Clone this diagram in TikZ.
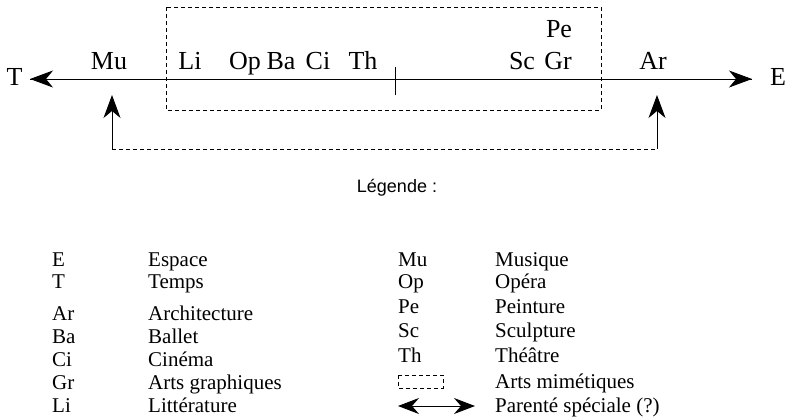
\documentclass[tikz,border=0pt]{standalone}
\usepackage{fontspec}
\setmainfont{Liberation Serif}
\setsansfont{Liberation Sans}
\usetikzlibrary{arrows.meta}
\tikzset{
  lbl/.style={anchor=base, inner sep=0pt, font=\fontsize{26}{30}\selectfont},
  leg/.style={anchor=base west, inner sep=0pt, font=\fontsize{21}{25}\selectfont},
  dsh/.style={dash pattern=on 4pt off 3pt, line width=0.8pt},
  tip/.style={line width=0.9pt, arrows={-Stealth[length=23pt,width=17pt,inset=7pt]}},
  tips/.style={line width=0.9pt, arrows={Stealth[length=21pt,width=16pt,inset=7pt]-Stealth[length=21pt,width=16pt,inset=7pt]}},
}
\begin{document}
\begin{tikzpicture}[x=1pt, y=-1pt]
\useasboundingbox (0,0) rectangle (788,418);

\node[lbl] (T) at (14.5,85) {T};
\node[lbl] (E) at (778,85) {E};
\coordinate (axL) at (30,79);
\coordinate (axR) at (752,79);
\draw[tip] (axR) -- (axL);
\draw[tip] (axL) -- (axR);

\node[lbl] (Mu) at (109,69) {Mu};
\node[lbl] (Li) at (190,69) {Li};
\node[lbl] (Op) at (245,69) {Op};
\node[lbl] (Ba) at (281,69) {Ba};
\node[lbl] (Ci) at (318,69) {Ci};
\node[lbl] (Th) at (363,69) {Th};
\node[lbl] (Sc) at (522,69) {Sc};
\node[lbl] (Gr) at (558,69) {Gr};
\node[lbl] (Pe) at (559,37) {Pe};
\node[lbl] (Ar) at (653,69) {Ar};

\coordinate (tickT) at (395,67);
\coordinate (tickB) at (395,95);
\draw[line width=0.9pt] (tickT) -- (tickB);

\draw[dsh] (166,7) rectangle (601,110);

\coordinate (muFoot) at (112,149);
\coordinate (muTip) at (112,95);
\coordinate (arFoot) at (657,149);
\coordinate (arTip) at (657,95);
\draw[tip] (muFoot) -- (muTip);
\draw[tip] (arFoot) -- (arTip);
\draw[dsh] (muFoot) -- (arFoot);

\node[anchor=base, inner sep=0pt, font=\sffamily\fontsize{18}{22}\selectfont] (leg) at (397,192) {Légende :};

\node[leg] (kE) at (52,266) {E};
\node[leg] (nE) at (148,266) {Espace};
\node[leg] (kT) at (52,288) {T};
\node[leg] (nT) at (148,288) {Temps};
\node[leg] (kAr) at (52,320) {Ar};
\node[leg] (nAr) at (148,320) {Architecture};
\node[leg] (kBa) at (52,343) {Ba};
\node[leg] (nBa) at (148,343) {Ballet};
\node[leg] (kCi) at (52,366) {Ci};
\node[leg] (nCi) at (148,366) {Cinéma};
\node[leg] (kGr) at (52,389) {Gr};
\node[leg] (nGr) at (148,389) {Arts graphiques};
\node[leg] (kLi) at (52,412) {Li};
\node[leg] (nLi) at (148,412) {Littérature};

\node[leg] (kMu) at (398,266) {Mu};
\node[leg] (nMu) at (495,266) {Musique};
\node[leg] (kOp) at (398,288) {Op};
\node[leg] (nOp) at (495,288) {Opéra};
\node[leg] (kPe) at (398,313) {Pe};
\node[leg] (nPe) at (495,313) {Peinture};
\node[leg] (kSc) at (398,337) {Sc};
\node[leg] (nSc) at (495,337) {Sculpture};
\node[leg] (kTh) at (398,362) {Th};
\node[leg] (nTh) at (495,362) {Théâtre};
\draw[dsh, line width=0.7pt] (398,375) rectangle (443,388);
\node[leg] (nBox) at (495,388) {Arts mimétiques};
\coordinate (pL) at (398,406);
\coordinate (pR) at (475,406);
\draw[tips] (pL) -- (pR);
\node[leg] (nPa) at (495,412) {Parenté spéciale (?)};
\end{tikzpicture}
\end{document}
